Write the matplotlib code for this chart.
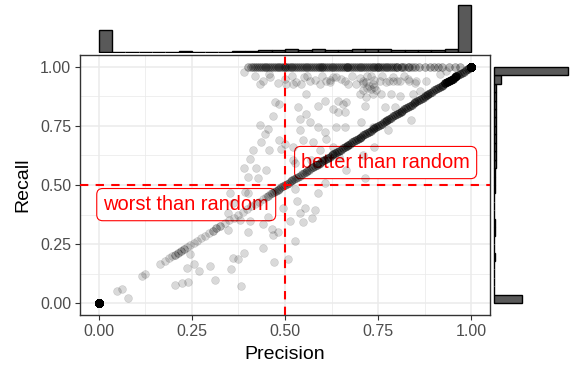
import numpy as np
import matplotlib
matplotlib.use("Agg")
import matplotlib.pyplot as plt

plt.rcParams['font.family'] = ['Liberation Sans', 'DejaVu Sans']

# points stacked at the two corners
n_zero = 408
n_one = 845

# points on the diagonal (precision == recall), with how many share each value
diag_vals = [0.05, 0.062, 0.115, 0.125, 0.165, 0.178, 0.19, 0.198, 0.205, 0.212,
             0.22, 0.228, 0.236, 0.245, 0.255, 0.265, 0.275, 0.285, 0.296, 0.306,
             0.316, 0.326, 0.338, 0.35, 0.362, 0.374, 0.386, 0.398, 0.41, 0.42,
             0.43, 0.44,
             0.45, 0.455, 0.46, 0.465, 0.47, 0.475, 0.48, 0.485, 0.49, 0.495,
             0.50, 0.505, 0.51, 0.515, 0.52, 0.525, 0.53, 0.535, 0.54, 0.545,
             0.55, 0.555, 0.56, 0.565, 0.57, 0.575, 0.58, 0.585, 0.59, 0.595,
             0.60, 0.605, 0.61, 0.615, 0.62, 0.625, 0.63, 0.635, 0.64, 0.645,
             0.65, 0.655, 0.66, 0.665, 0.67, 0.675, 0.68, 0.685, 0.69, 0.695,
             0.70, 0.705, 0.71, 0.715, 0.72, 0.725, 0.73, 0.735, 0.74, 0.745,
             0.75, 0.755, 0.76, 0.765, 0.77, 0.775, 0.78, 0.785, 0.79, 0.795,
             0.80, 0.805, 0.81, 0.815, 0.82, 0.825, 0.83, 0.835, 0.84, 0.845,
             0.85, 0.855, 0.86, 0.865, 0.87, 0.875, 0.88, 0.885, 0.89, 0.895,
             0.90, 0.905, 0.91, 0.915, 0.92, 0.925, 0.93, 0.935, 0.94, 0.945,
             0.95, 0.955, 0.96, 0.965, 0.97, 0.975, 0.98, 0.985, 0.99, 0.995]
diag_counts = [1, 1, 1, 1, 1, 1, 1, 1, 2, 2,
               2, 2, 1, 1, 1, 1, 1, 1, 1, 2,
               2, 2, 1, 1, 1, 1, 1, 1, 1, 1,
               1, 1,
               1, 2, 1, 2, 2, 2, 2, 2, 2, 2,
               2, 2, 2, 2, 2, 2, 2, 2, 2, 2,
               2, 2, 2, 2, 2, 3, 2, 3, 2, 3,
               3, 3, 3, 3, 3, 3, 3, 3, 3, 3,
               3, 3, 3, 3, 3, 3, 3, 3, 3, 3,
               3, 3, 3, 3, 3, 3, 3, 3, 3, 3,
               3, 3, 3, 3, 3, 3, 3, 3, 3, 3,
               3, 3, 3, 3, 3, 3, 3, 3, 3, 3,
               3, 3, 3, 3, 3, 3, 3, 3, 3, 3,
               3, 3, 3, 3, 3, 3, 8, 8, 8, 8,
               8, 8, 8, 3, 3, 3, 3, 3, 3, 3]

# points with recall == 1 (each value appears twice)
band_prec = [0.40, 0.41, 0.42, 0.425, 0.43, 0.44, 0.445, 0.45, 0.46, 0.465,
             0.47, 0.48, 0.49, 0.50, 0.50, 0.505, 0.51, 0.52, 0.525, 0.53,
             0.54, 0.55, 0.555, 0.56, 0.57, 0.575, 0.58, 0.59, 0.60, 0.60,
             0.61, 0.62, 0.625, 0.63, 0.64, 0.65, 0.66, 0.667, 0.667, 0.67,
             0.68, 0.69, 0.70, 0.71, 0.714, 0.72, 0.73, 0.74, 0.75, 0.75,
             0.76, 0.77, 0.78, 0.79, 0.80, 0.80, 0.81, 0.82, 0.83, 0.833,
             0.84, 0.85, 0.86, 0.875, 0.89, 0.90, 0.91, 0.92, 0.94, 0.955,
             0.97,
             0.415, 0.435, 0.455, 0.475, 0.485, 0.495, 0.515, 0.535, 0.545, 0.565,
             0.585, 0.595, 0.605, 0.615, 0.635, 0.645, 0.655, 0.675, 0.685, 0.695,
             0.705, 0.725, 0.735, 0.745, 0.755, 0.765, 0.775, 0.785, 0.795, 0.815]

# points just under the recall == 1 row
band2_prec = [0.42, 0.44, 0.46, 0.48, 0.50, 0.52, 0.53, 0.55, 0.56, 0.58,
              0.60, 0.62, 0.63, 0.65, 0.66, 0.68, 0.70, 0.71, 0.73, 0.74,
              0.76, 0.77, 0.79, 0.80, 0.82, 0.83, 0.85, 0.62, 0.72, 0.78]
band2_rec = [0.962, 0.94, 0.958, 0.932, 0.947, 0.962, 0.936, 0.955, 0.961, 0.943,
             0.962, 0.934, 0.958, 0.949, 0.938, 0.962, 0.953, 0.931, 0.96, 0.945,
             0.962, 0.937, 0.957, 0.941, 0.962, 0.95, 0.933, 0.944, 0.962, 0.939]

# remaining scattered points
scat_prec = [0.391, 0.432, 0.458, 0.503, 0.521, 0.543, 0.566, 0.593, 0.611, 0.637,
             0.669, 0.691, 0.709, 0.718, 0.736, 0.754, 0.79, 0.808, 0.834, 0.852,
             0.879, 0.915, 0.933,
             0.557, 0.606, 0.642, 0.664, 0.70, 0.718, 0.736, 0.758, 0.785, 0.808,
             0.843, 0.861, 0.875,
             0.72, 0.73, 0.74, 0.725, 0.745, 0.71,
             0.472, 0.485, 0.467, 0.534, 0.539, 0.557, 0.588, 0.628, 0.642, 0.66,
             0.655, 0.714, 0.767, 0.794,
             0.432, 0.454, 0.539, 0.566, 0.588, 0.606, 0.637, 0.66, 0.705, 0.736,
             0.776, 0.839, 0.521,
             0.445, 0.414, 0.405, 0.391, 0.423, 0.436, 0.458, 0.485, 0.49, 0.499,
             0.526, 0.548, 0.575, 0.611, 0.628, 0.593, 0.646, 0.709, 0.74,
             0.40, 0.427, 0.449, 0.521, 0.57, 0.606, 0.664, 0.714, 0.353, 0.361,
             0.348, 0.38,
             0.527, 0.531, 0.554, 0.54, 0.549, 0.572, 0.581, 0.514, 0.527, 0.507,
             0.471, 0.44, 0.391, 0.361, 0.375, 0.355, 0.381, 0.312, 0.495, 0.589,
             0.406, 0.402, 0.348, 0.469, 0.48, 0.466, 0.44, 0.455, 0.393, 0.401,
             0.245, 0.299, 0.268, 0.236, 0.205, 0.223, 0.241, 0.257, 0.078]
scat_rec = [0.976, 0.927, 0.969, 0.927, 0.927, 0.927, 0.941, 0.927, 0.941, 0.955,
            0.927, 0.927, 0.941, 0.934, 0.927, 0.941, 0.941, 0.941, 0.941, 0.941,
            0.941, 0.969, 0.983,
            0.885, 0.857, 0.857, 0.85, 0.885, 0.871, 0.885, 0.885, 0.885, 0.878,
            0.885, 0.899, 0.871,
            0.91, 0.905, 0.915, 0.92, 0.90, 0.90,
            0.85, 0.843, 0.794, 0.829, 0.78, 0.801, 0.836, 0.822, 0.808, 0.808,
            0.843, 0.836, 0.829, 0.829,
            0.752, 0.738, 0.731, 0.766, 0.745, 0.724, 0.745, 0.745, 0.766, 0.745,
            0.731, 0.773, 0.661,
            0.717, 0.647, 0.612, 0.57, 0.57, 0.682, 0.647, 0.689, 0.654, 0.675,
            0.591, 0.689, 0.682, 0.696, 0.661, 0.647, 0.619, 0.626, 0.661,
            0.535, 0.528, 0.563, 0.605, 0.605, 0.507, 0.563, 0.528, 0.466, 0.424,
            0.381, 0.352,
            0.483, 0.432, 0.401, 0.381, 0.345, 0.359, 0.394, 0.348, 0.263, 0.187,
            0.173, 0.235, 0.211, 0.192, 0.187, 0.143, 0.074, 0.098, 0.401, 0.465,
            0.348, 0.302, 0.31, 0.288, 0.30, 0.313, 0.334, 0.366, 0.472, 0.466,
            0.21, 0.157, 0.136, 0.147, 0.077, 0.084, 0.088, 0.164, 0.02]

labels = ["better than random", "worst than random"]
label_x = [0.77, 0.235]
label_y = [0.595, 0.417]

# assemble everything
dv = np.repeat(diag_vals, diag_counts)
bp = np.repeat(band_prec, 2)
precision = np.concatenate([np.zeros(n_zero), np.ones(n_one), dv,
                            bp, band2_prec, scat_prec])
recall = np.concatenate([np.zeros(n_zero), np.ones(n_one), dv,
                         np.ones(len(bp)), band2_rec, scat_rec])

W, H = 575, 366
fig = plt.figure(figsize=(W / 100, H / 100), dpi=100)
L, R, T, B = 80, 490, 55, 315
ax = fig.add_axes([L / W, (H - B) / H, (R - L) / W, (B - T) / H])

ax.set_xlim(-0.05, 1.05)
ax.set_ylim(-0.05, 1.05)
ticks = [0, 0.25, 0.5, 0.75, 1.0]
ax.set_xticks(ticks)
ax.set_yticks(ticks)
ax.set_xticks([0.125, 0.375, 0.625, 0.875], minor=True)
ax.set_yticks([0.125, 0.375, 0.625, 0.875], minor=True)
ax.set_xticklabels(["0.00", "0.25", "0.50", "0.75", "1.00"])
ax.set_yticklabels(["0.00", "0.25", "0.50", "0.75", "1.00"])
ax.grid(True, which="major", color="#ebebeb", linewidth=1.1)
ax.grid(True, which="minor", color="#ebebeb", linewidth=0.55)
ax.set_axisbelow(True)
ax.tick_params(which="major", length=3.8, width=0.8, color="#333333",
               labelsize=11.5, labelcolor="#4d4d4d", pad=2.5)
ax.tick_params(which="minor", length=0)
for s in ax.spines.values():
    s.set_color("#333333")
    s.set_linewidth(1.0)
ax.set_xlabel("Precision", fontsize=14, labelpad=5)
ax.set_ylabel("Recall", fontsize=14, labelpad=6)

for t, x, y in zip(labels, label_x, label_y):
    ax.text(x, y, t, color="red", fontsize=14.4, ha="center", va="center",
            zorder=1,
            bbox=dict(boxstyle="round,pad=0.33,rounding_size=0.3",
                      fc="white", ec="red", lw=0.8))

ax.scatter(precision, recall, s=32, c="black", alpha=0.15,
           edgecolors="black", linewidths=0.4, zorder=2)

ax.axvline(0.5, color="red", linestyle=(0, (4, 3.5)), linewidth=1.5, zorder=3)
ax.axhline(0.5, color="red", linestyle=(0, (4, 3.5)), linewidth=1.5, zorder=3)

bins = np.linspace(0, 1, 29)

# top marginal histogram
top_h = 53
axt = fig.add_axes([L / W, (H - top_h) / H, (R - L) / W, top_h / H])
cnt_p, _ = np.histogram(precision, bins=bins)
mp = cnt_p.max()
axt.hist(precision, bins=bins, color="#595959", edgecolor="black", linewidth=1.0)
axt.set_xlim(-0.05, 1.05)
axt.set_ylim(-mp / 47, mp * 52 / 47)
axt.axis("off")

# right marginal histogram
rl = 492
axr = fig.add_axes([rl / W, (H - B) / H, (W - rl) / W, (B - T) / H])
cnt_r, _ = np.histogram(recall, bins=bins)
mr = cnt_r.max()
axr.hist(recall, bins=bins, orientation="horizontal", color="#595959",
         edgecolor="black", linewidth=1.0)
axr.set_ylim(-0.05, 1.05)
axr.set_xlim(-2 * mr / 74, mr * 81 / 74)
axr.axis("off")

fig.savefig("out.png", dpi=100)
